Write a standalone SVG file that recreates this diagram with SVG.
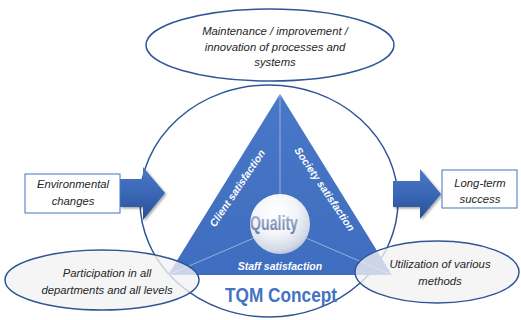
<svg xmlns="http://www.w3.org/2000/svg" width="521" height="320" viewBox="0 0 521 320">
<defs>
<linearGradient id="triG" x1="0" y1="0" x2="0" y2="1">
<stop offset="0" stop-color="#4a78c8"/>
<stop offset="1" stop-color="#3f6dbf"/>
</linearGradient>
<radialGradient id="sph" cx="0.42" cy="0.32" r="0.72">
<stop offset="0" stop-color="#ffffff"/>
<stop offset="0.5" stop-color="#f3f5f9"/>
<stop offset="0.85" stop-color="#d3d9e6"/>
<stop offset="1" stop-color="#b3bed5"/>
</radialGradient>
<linearGradient id="arrG" x1="0" y1="0" x2="0" y2="1">
<stop offset="0" stop-color="#4b78c6"/>
<stop offset="0.5" stop-color="#3a67b5"/>
<stop offset="1" stop-color="#274f94"/>
</linearGradient>
<linearGradient id="qG" x1="0" y1="0" x2="0" y2="1">
<stop offset="0" stop-color="#b4c0d6"/>
<stop offset="1" stop-color="#6a7fa8"/>
</linearGradient>
<filter id="sh" x="-20%" y="-20%" width="150%" height="150%">
<feDropShadow dx="1.5" dy="1.5" stdDeviation="1" flood-color="#000" flood-opacity="0.35"/>
</filter>
</defs>
<style>
.ell{stroke:#2f5597;stroke-width:1.5}
.lbl{font-family:"Liberation Sans",Arial,sans-serif;font-style:italic;font-size:11.3px;fill:#262626;text-anchor:middle}
.wt{font-family:"Liberation Sans",Arial,sans-serif;font-style:italic;font-weight:bold;font-size:10.5px;fill:#ffffff;text-anchor:middle}
.box{fill:#ffffff;stroke:#4472c4;stroke-width:1}
</style>

<g id="outer-ellipse">
<ellipse cx="269" cy="201" rx="129" ry="116" fill="#ffffff" class="ell" stroke-width="1.2"/>
</g>

<g id="triangle">
<polygon points="280,94 168,275 392,275" fill="url(#triG)"/>
<g stroke="#ffffff" stroke-opacity="0.45" stroke-width="1">
<line x1="280" y1="94" x2="280" y2="194"/>
<line x1="254" y1="238" x2="168" y2="275"/>
<line x1="306" y1="238" x2="392" y2="275"/>
</g>
<text class="wt" transform="translate(237,188) rotate(-56)" dominant-baseline="central">Client satisfaction</text>
<text class="wt" transform="translate(325,189) rotate(56)" dominant-baseline="central">Society satisfaction</text>
<text class="wt" x="280" y="270">Staff satisfaction</text>
</g>

<g id="quality">
<circle cx="280" cy="224" r="30" fill="url(#sph)"/>
<text x="274" y="230" font-family="Liberation Sans,Arial,sans-serif" font-weight="bold" font-size="21" fill="url(#qG)" text-anchor="middle" textLength="48" lengthAdjust="spacingAndGlyphs">Quality</text>
</g>

<g id="tqm-concept">
<text x="281" y="302" font-family="Liberation Sans,Arial,sans-serif" font-weight="bold" font-size="21" fill="#4472c4" text-anchor="middle" textLength="112" lengthAdjust="spacingAndGlyphs">TQM Concept</text>
</g>

<g id="top-ellipse">
<ellipse cx="270" cy="45" rx="124" ry="36" fill="#ffffff" class="ell"/>
<text class="lbl" x="275" y="35">Maintenance / improvement /</text>
<text class="lbl" x="275" y="51">innovation of processes and</text>
<text class="lbl" x="275" y="66">systems</text>
</g>

<g id="connectors">
<polygon points="120,179 143,179 143,167 165,193 143,220 143,207 120,207" fill="url(#arrG)" filter="url(#sh)"/>
<polygon points="393,181 420,181 420,169 441,194 420,219 420,207 393,207" fill="url(#arrG)" filter="url(#sh)"/>
</g>

<g id="environmental-changes">
<rect x="25" y="174" width="95" height="39" class="box"/>
<text class="lbl" x="73" y="188">Environmental</text>
<text class="lbl" x="73" y="205">changes</text>
</g>

<g id="long-term-success">
<rect x="442" y="170" width="75" height="38" class="box"/>
<text class="lbl" x="480" y="187">Long-term</text>
<text class="lbl" x="480" y="203">success</text>
</g>

<g id="participation">
<ellipse cx="102" cy="280" rx="97" ry="30" fill="#f2f2f2" fill-opacity="0.78" class="ell"/>
<text class="lbl" x="107" y="277">Participation in all</text>
<text class="lbl" x="107" y="294">departments and all levels</text>
</g>

<g id="utilization">
<ellipse cx="437" cy="272" rx="82" ry="31" fill="#f2f2f2" fill-opacity="0.78" class="ell"/>
<text class="lbl" x="440" y="268">Utilization of various</text>
<text class="lbl" x="440" y="285">methods</text>
</g>
</svg>
